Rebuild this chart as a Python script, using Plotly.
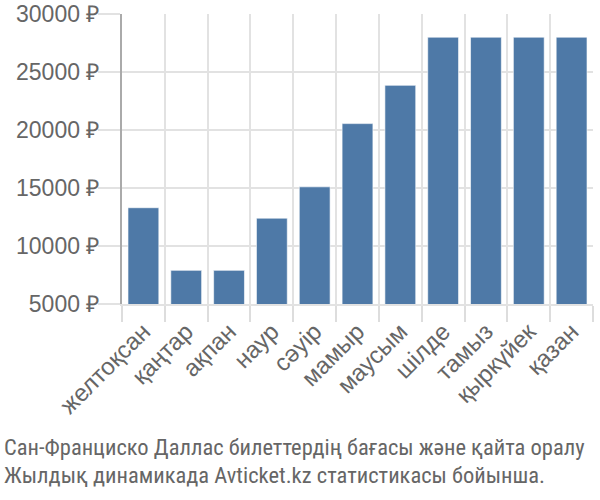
import plotly.graph_objects as go

months = ["желтоқсан", "қаңтар", "ақпан", "наур", "сәуір", "мамыр",
          "маусым", "шілде", "тамыз", "қыркүйек", "қазан"]
prices = [13300, 7900, 7900, 12400, 15100, 20550, 23850, 28000, 28000, 28000, 28000]

y_ticks = [5000, 10000, 15000, 20000, 25000, 30000]
y_tick_text = [f"{v} ₽" for v in y_ticks]

footer_lines = ["Сан-Франциско Даллас билеттердің бағасы және қайта оралу",
                "Жылдық динамикада Avticket.kz статистикасы бойынша."]

fig = go.Figure()
fig.add_trace(go.Bar(x=months, y=prices, base=0,
                     marker=dict(color="#4e79a7",
                                 line=dict(color="rgba(255,255,255,0.6)", width=1))))

fig.update_layout(
    width=600, height=500,
    margin=dict(l=122, r=7, t=14, b=196),
    plot_bgcolor="white", paper_bgcolor="white",
    bargap=0.28, showlegend=False,
    font=dict(family="Liberation Sans, Arial, sans-serif", color="#666666", size=20),
)
fig.update_xaxes(
    tickangle=-45, tickson="boundaries", ticks="outside", ticklen=16,
    tickcolor="#dddddd", tickwidth=2, automargin=False,
    ticklabelstandoff=2,
    showgrid=True, gridcolor="#e2e2e2", gridwidth=2,
    tickfont=dict(size=24, color="#666666"),
    showline=True, linecolor="#e2e2e2", linewidth=2,
)
fig.update_yaxes(
    range=[5000, 30000], tickvals=y_ticks, ticktext=y_tick_text,
    ticks="outside", ticklen=22, tickcolor="#e2e2e2", tickwidth=2,
    ticklabelstandoff=-6,
    showgrid=True, gridcolor="#e2e2e2", gridwidth=2, automargin=False,
    showline=True, linecolor="#aaaaaa", linewidth=2,
    tickfont=dict(size=23, color="#666666"),
)

for i, line in enumerate(footer_lines):
    fig.add_annotation(
        text=line, xref="paper", yref="paper", x=-0.255, y=-0.493 - i * 0.097,
        xanchor="left", yanchor="middle", align="left", showarrow=False,
        font=dict(family="Liberation Sans Narrow, Roboto Condensed, sans-serif",
                  size=22.5, color="#666666"),
    )

# the page has a default 8px body margin; drop it so the chart sits at 0,0
fig.write_html("out.html", config={"displayModeBar": False},
               post_script="document.body.style.margin='0';")
